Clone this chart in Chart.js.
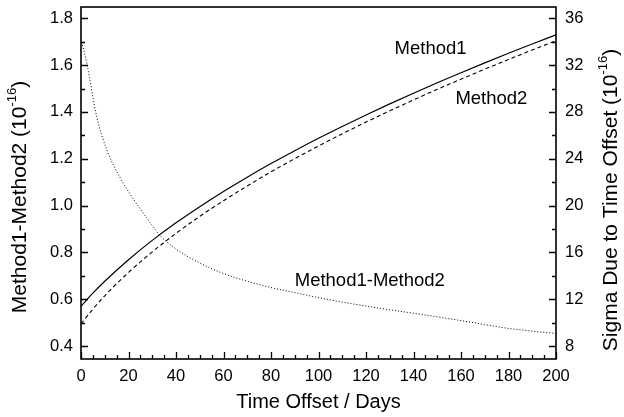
<!DOCTYPE html>
<html>
<head>
<meta charset="utf-8">
<script src="https://cdn.jsdelivr.net/npm/chart.js@4.4.1/dist/chart.umd.min.js"></script>
<style>
  html, body { margin: 0; padding: 0; background: #fff; }
  #wrap { width: 624px; height: 417px; }
</style>
</head>
<body>
<div id="wrap"><canvas id="sigmaChart" width="624" height="417"></canvas></div>
<script>
// values
const days = [0, 5, 10, 20, 30, 40, 50, 60, 70, 80, 90, 100, 110, 120, 130, 140, 150, 160, 170, 180, 190, 200];
const method1 = [11.40, 12.52, 13.54, 15.38, 17.03, 18.53, 19.91, 21.21, 22.43, 23.59, 24.69, 25.75, 26.76, 27.74, 28.69, 29.60, 30.49, 31.35, 32.19, 33.01, 33.80, 34.58];
const method2 = [9.90, 11.16, 12.30, 14.29, 16.05, 17.63, 19.08, 20.42, 21.68, 22.88, 24.01, 25.09, 26.13, 27.13, 28.09, 29.02, 29.93, 30.80, 31.65, 32.48, 33.29, 34.08];

const diffDays = [0, 2.4, 6.6, 10.8, 16.4, 20, 25, 30, 33, 40, 50, 60, 71, 80, 89, 100, 110, 120, 130, 141, 150, 160, 170, 179, 190, 200];
const diffValues = [1.71, 1.61, 1.38, 1.24, 1.12, 1.06, 0.985, 0.915, 0.875, 0.815, 0.755, 0.71, 0.674, 0.65, 0.631, 0.607, 0.588, 0.571, 0.555, 0.539, 0.525, 0.509, 0.492, 0.477, 0.464, 0.454];

const xTicks = [0, 20, 40, 60, 80, 100, 120, 140, 160, 180, 200];
const leftTicks = [0.4, 0.6, 0.8, 1.0, 1.2, 1.4, 1.6, 1.8];
const rightTicks = [8, 12, 16, 20, 24, 28, 32, 36];

const FONT = '"Liberation Sans", Arial, Helvetica, sans-serif';

function pts(xs, ys) {
    return xs.map((x, i) => ({ x: x, y: ys[i] }));
}

// frame, inward ticks, curve labels and axis titles
const framePlugin = {
    id: 'frame',
    afterDatasetsDraw(chart) {
        const ctx = chart.ctx;
        const a = chart.chartArea;
        const sx = chart.scales.x, sl = chart.scales.yL, sr = chart.scales.yR;
        ctx.save();
        ctx.strokeStyle = '#000';
        ctx.lineWidth = 1.6;
        ctx.strokeRect(a.left, a.top, a.right - a.left, a.bottom - a.top);

        ctx.lineWidth = 1.3;
        ctx.beginPath();
        for (let v = 0; v <= 200; v += 5) {
            const px = Math.round(sx.getPixelForValue(v)) + 0.5;
            const len = v % 20 === 0 ? 7 : 4;
            ctx.moveTo(px, a.bottom); ctx.lineTo(px, a.bottom - len);
        }
        for (let i = 4; i <= 18; i++) {
            const py = Math.round(sl.getPixelForValue(i / 10)) + 0.5;
            const len = i % 2 === 0 ? 7 : 4;
            ctx.moveTo(a.left, py); ctx.lineTo(a.left + len, py);
        }
        for (let v = 8; v <= 36; v += 2) {
            const py = Math.round(sr.getPixelForValue(v)) + 0.5;
            const len = v % 4 === 0 ? 7 : 4;
            ctx.moveTo(a.right, py); ctx.lineTo(a.right - len, py);
        }
        ctx.stroke();

        // curve labels
        ctx.fillStyle = '#000';
        ctx.font = '18.5px ' + FONT;
        ctx.textAlign = 'center';
        ctx.textBaseline = 'middle';
        ctx.fillText('Method1', sx.getPixelForValue(147.2), sr.getPixelForValue(33.37));
        ctx.fillText('Method2', sx.getPixelForValue(172.8), sr.getPixelForValue(29.07));
        ctx.fillText('Method1-Method2', sx.getPixelForValue(121.6), sl.getPixelForValue(0.677));

        // axis titles
        ctx.font = '20px ' + FONT;
        ctx.textBaseline = 'middle';
        ctx.fillText('Time Offset / Days', (a.left + a.right) / 2, 402);

        drawRotated(ctx, 20, 197, 'Method1-Method2 (10', '-16', ')', 21);
        drawRotated(ctx, 611, 200, 'Sigma Due to Time Offset (10', '-16', ')', 21);
        ctx.restore();
    }
};

function drawRotated(ctx, cx, cy, main, sup, tail, size) {
    const supSize = Math.round(size * 0.62);
    ctx.save();
    ctx.translate(cx, cy);
    ctx.rotate(-Math.PI / 2);
    ctx.textAlign = 'left';
    ctx.textBaseline = 'middle';
    ctx.font = size + 'px ' + FONT;
    const w1 = ctx.measureText(main).width;
    const w3 = ctx.measureText(tail).width;
    ctx.font = supSize + 'px ' + FONT;
    const w2 = ctx.measureText(sup).width;
    let x = -(w1 + w2 + w3) / 2;
    ctx.font = size + 'px ' + FONT;
    ctx.fillText(main, x, 0);
    x += w1;
    ctx.font = supSize + 'px ' + FONT;
    ctx.fillText(sup, x, -size * 0.38);
    x += w2;
    ctx.font = size + 'px ' + FONT;
    ctx.fillText(tail, x, 0);
    ctx.restore();
}

function noPad(s) {
    s.paddingTop = 0; s.paddingBottom = 0; s.paddingLeft = 0; s.paddingRight = 0;
}

const sigmaChart = new Chart(document.getElementById('sigmaChart'), {
    type: 'line',
    data: {
        datasets: [
            {
                label: 'Method1',
                data: pts(days, method1),
                yAxisID: 'yR',
                borderColor: '#000',
                borderWidth: 1.2,
                pointRadius: 0,
                cubicInterpolationMode: 'monotone'
            },
            {
                label: 'Method2',
                data: pts(days, method2),
                yAxisID: 'yR',
                borderColor: '#000',
                borderWidth: 1.1,
                borderDash: [4, 3],
                pointRadius: 0,
                cubicInterpolationMode: 'monotone'
            },
            {
                label: 'Method1-Method2',
                data: pts(diffDays, diffValues),
                yAxisID: 'yL',
                borderColor: '#000',
                borderWidth: 1,
                borderDash: [1, 2],
                pointRadius: 0,
                cubicInterpolationMode: 'monotone'
            }
        ]
    },
    options: {
        responsive: false,
        animation: false,
        layout: { padding: { top: 7, left: 0, right: 0, bottom: 0 } },
        plugins: {
            legend: { display: false },
            tooltip: { enabled: false }
        },
        scales: {
            x: {
                type: 'linear',
                min: 0,
                max: 200,
                grid: { display: false, drawTicks: false, tickLength: 0 },
                border: { display: false },
                afterBuildTicks: s => { s.ticks = xTicks.map(v => ({ value: v })); },
                afterFit: s => { s.height = 58; noPad(s); },
                ticks: {
                    color: '#000',
                    padding: 8,
                    maxRotation: 0,
                    font: { family: FONT, size: 16.5 }
                }
            },
            yL: {
                type: 'linear',
                position: 'left',
                min: 0.345,
                max: 1.848,
                grid: { display: false, drawTicks: false, tickLength: 0 },
                border: { display: false },
                afterBuildTicks: s => { s.ticks = leftTicks.map(v => ({ value: v })); },
                afterFit: s => { s.width = 81; noPad(s); },
                ticks: {
                    color: '#000',
                    padding: 8,
                    font: { family: FONT, size: 16.5 },
                    callback: v => Number(v).toFixed(1)
                }
            },
            yR: {
                type: 'linear',
                position: 'right',
                min: 6.9,
                max: 36.96,
                grid: { display: false, drawTicks: false, tickLength: 0 },
                border: { display: false },
                afterBuildTicks: s => { s.ticks = rightTicks.map(v => ({ value: v })); },
                afterFit: s => { s.width = 68; noPad(s); },
                ticks: {
                    color: '#000',
                    padding: 9,
                    font: { family: FONT, size: 16.5 },
                    callback: v => String(v)
                }
            }
        }
    },
    plugins: [framePlugin]
});
</script>
</body>
</html>
